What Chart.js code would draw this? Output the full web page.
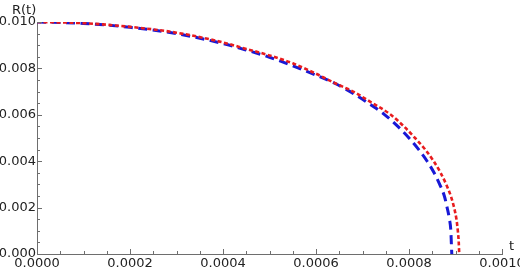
<!DOCTYPE html>
<html>
<head>
<meta charset="utf-8">
<script src="https://cdn.jsdelivr.net/npm/chart.js@4/dist/chart.umd.min.js"></script>
<style>
    html, body { margin: 0; padding: 0; background: #fff; }
    #wrap { width: 520px; height: 270px; }
</style>
</head>
<body>
<div id="wrap"><canvas id="chart"></canvas></div>
<script>
// red short-dash curve
const redT = [0, 0.0001, 0.0002, 0.0003, 0.0004, 0.00045, 0.0005, 0.00055, 0.0006, 0.00064,
    0.00068, 0.00072, 0.000761, 0.000789, 0.000813, 0.000835, 0.000853, 0.000868, 0.00088, 0.00089,
    0.000897, 0.000902, 0.000905, 0.000907, 0.000908];
const redR = [0.01, 0.00995, 0.00979, 0.00954, 0.00912, 0.00884, 0.00856, 0.00822, 0.00777, 0.00737,
    0.007, 0.00652, 0.006, 0.0055, 0.005, 0.0045, 0.004, 0.0035, 0.003, 0.0025,
    0.002, 0.0015, 0.001, 0.0005, 0];

// blue long-dash curve
const blueT = [0, 0.0001, 0.0002, 0.0003, 0.0004, 0.00045, 0.0005, 0.00055, 0.0006, 0.00064,
    0.00068, 0.00072, 0.000748, 0.000776, 0.0008, 0.000821, 0.000839, 0.000854, 0.000866, 0.000876,
    0.000882, 0.000887, 0.00089, 0.000891, 0.000892];
const blueR = [0.01, 0.00994, 0.00977, 0.0095, 0.00907, 0.00879, 0.00848, 0.00811, 0.00771, 0.00736,
    0.00692, 0.0064, 0.006, 0.0055, 0.005, 0.0045, 0.004, 0.0035, 0.003, 0.0025,
    0.002, 0.0015, 0.001, 0.0005, 0];

const xMajor = [0, 0.0002, 0.0004, 0.0006, 0.0008, 0.001];
const yMajor = [0, 0.002, 0.004, 0.006, 0.008, 0.01];

const FONT = 'DejaVu Sans';
const AXIS = '#6e6e6e';

function toPoints(xs, ys) {
    return xs.map((x, i) => ({ x: x, y: ys[i] }));
}

// ticks pointing into the plot + axis labels
const axisDecor = {
    id: 'axisDecor',
    afterDatasetsDraw(chart) {
        const ctx = chart.ctx;
        const area = chart.chartArea;
        const xs = chart.scales.x, ys = chart.scales.y;
        ctx.save();
        ctx.strokeStyle = AXIS;
        ctx.lineWidth = 1;
        ctx.beginPath();
        for (let i = 0; i <= 20; i++) {
            const v = i * 0.00005;
            const px = Math.round(xs.getPixelForValue(v)) + 0.5;
            const len = i % 4 === 0 ? 5 : 3;
            ctx.moveTo(px, area.bottom);
            ctx.lineTo(px, area.bottom - len);
        }
        for (let i = 0; i <= 20; i++) {
            const v = i * 0.0005;
            const py = Math.round(ys.getPixelForValue(v)) + 0.5;
            const len = i % 4 === 0 ? 5 : 3;
            ctx.moveTo(area.left, py);
            ctx.lineTo(area.left + len, py);
        }
        ctx.stroke();

        ctx.fillStyle = '#222';
        ctx.font = '13px "' + FONT + '"';
        ctx.textAlign = 'left';
        ctx.textBaseline = 'alphabetic';
        ctx.fillText('R(t)', 12, 14);
        ctx.fillText('t', area.right + 7, area.bottom - 4);
        ctx.restore();
    }
};

new Chart(document.getElementById('chart'), {
    type: 'line',
    data: {
        datasets: [{
            label: 'red',
            data: toPoints(redT, redR),
            borderColor: 'rgb(232, 28, 30)',
            borderWidth: 2.6,
            borderDash: [4, 2.5],
            pointRadius: 0,
            cubicInterpolationMode: 'monotone',
            fill: false
        }, {
            label: 'blue',
            data: toPoints(blueT, blueR),
            borderColor: 'rgb(24, 24, 214)',
            borderWidth: 3,
            borderDash: [9, 5.5],
            pointRadius: 0,
            cubicInterpolationMode: 'monotone',
            fill: false
        }]
    },
    options: {
        responsive: true,
        maintainAspectRatio: false,
        animation: false,
        layout: { padding: { left: 0, top: 22, right: 18, bottom: 0 } },
        plugins: {
            legend: { display: false },
            tooltip: { enabled: false }
        },
        scales: {
            x: {
                type: 'linear',
                min: 0,
                max: 0.001,
                grid: { display: false, drawTicks: false },
                border: { display: true, color: AXIS, width: 1 },
                afterBuildTicks(scale) {
                    scale.ticks = xMajor.map(v => ({ value: v }));
                },
                afterFit(scale) {
                    scale.height = 16;
                    scale.paddingLeft = 0;
                    scale.paddingRight = 0;
                },
                ticks: {
                    padding: 2,
                    color: '#222',
                    font: { family: FONT, size: 13 },
                    maxRotation: 0,
                    autoSkip: false,
                    callback: v => Number(v).toFixed(4)
                }
            },
            y: {
                type: 'linear',
                min: 0,
                max: 0.01,
                grid: { display: false, drawTicks: false },
                border: { display: true, color: AXIS, width: 1 },
                afterBuildTicks(scale) {
                    scale.ticks = yMajor.map(v => ({ value: v }));
                },
                afterFit(scale) {
                    scale.width = 37;
                    scale.paddingTop = 0;
                    scale.paddingBottom = 0;
                },
                ticks: {
                    padding: 1,
                    color: '#222',
                    font: { family: FONT, size: 13 },
                    autoSkip: false,
                    callback: v => Number(v).toFixed(3)
                }
            }
        }
    },
    plugins: [axisDecor]
});
</script>
</body>
</html>
